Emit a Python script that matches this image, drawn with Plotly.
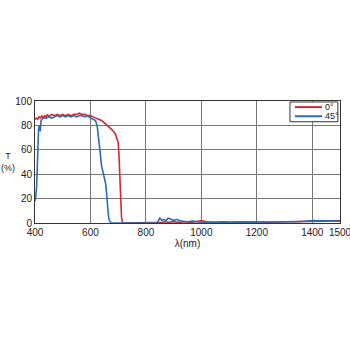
import plotly.graph_objects as go

wl_0 = [400, 405, 410, 415, 420, 425, 430, 435, 440, 445, 450, 460, 470, 480, 490, 500, 510, 520, 530, 540, 550, 560, 570, 580, 590, 600, 610, 620, 630, 640, 650, 660, 670, 680, 690, 695, 700, 703, 706, 709, 712, 715, 718, 722, 740, 800, 840, 850, 860, 870, 880, 900, 920, 940, 960, 980, 1000, 1020, 1050, 1080, 1100, 1150, 1200, 1250, 1300, 1350, 1400, 1450, 1500]
t_0 = [85, 86, 85, 87, 86, 88, 86, 88, 87, 89, 87, 89, 88, 89, 88, 89, 88, 89, 88, 89, 89, 90, 89, 89, 88, 88, 87, 86, 85, 84, 82, 80, 78, 76, 73, 70, 66, 55, 35, 15, 5, 1, 0, 0, 0, 0, 0, 0.5, 0.5, 1, 0.5, 1, 0.5, 1, 0.5, 1, 2, 1, 0.5, 1, 0.5, 1, 0.5, 0.5, 1, 1, 1.5, 1.5, 2]

wl_45 = [400, 403, 406, 408, 410, 413, 416, 419, 422, 425, 430, 440, 450, 460, 470, 480, 490, 500, 510, 520, 530, 540, 550, 560, 570, 580, 590, 600, 610, 618, 624, 628, 634, 640, 645, 650, 655, 658, 661, 664, 667, 671, 676, 700, 800, 840, 845, 850, 858, 865, 872, 880, 890, 900, 910, 920, 935, 950, 970, 1000, 1050, 1100, 1150, 1200, 1250, 1300, 1350, 1400, 1450, 1500]
t_45 = [18, 22, 30, 50, 65, 78, 80, 75, 84, 85, 86, 86, 87, 86, 87, 88, 87, 88, 87, 88, 87, 88, 87, 88, 88, 87, 88, 86, 85, 84, 80, 73, 60, 47, 42, 38, 32, 25, 14, 8, 3, 1, 0, 0, 0, 0, 2, 4, 2, 3, 2, 4, 3, 2, 3, 2, 1.5, 1, 1.5, 0.5, 0.5, 0.5, 0.5, 0.5, 0.5, 1, 1, 2, 1.5, 1.5]

x_ticks = [400, 600, 800, 1000, 1200, 1400, 1500]
y_ticks = [0, 20, 40, 60, 80, 100]
series_names = ["0°", "45°"]
series_colors = ["#d42a2f", "#2b6db3"]

fig = go.Figure()
fig.add_trace(go.Scatter(x=wl_0, y=t_0, mode="lines", name=series_names[0],
                         line=dict(color=series_colors[0], width=1.6), showlegend=False))
fig.add_trace(go.Scatter(x=wl_45, y=t_45, mode="lines", name=series_names[1],
                         line=dict(color=series_colors[1], width=1.6), showlegend=False))

shapes = [
    dict(type="rect", xref="paper", yref="paper", x0=0.836, x1=0.993, y0=0.83, y1=0.992,
         fillcolor="white", line=dict(color="#333", width=1), layer="above"),
]
annotations = [
    dict(text="T<br>(%)", xref="paper", yref="paper", x=-0.09, y=0.5,
         xanchor="center", yanchor="middle", showarrow=False, font=dict(size=9)),
]
for i, (nm, col) in enumerate(zip(series_names, series_colors)):
    yy = 0.95 - i * 0.075
    shapes.append(dict(type="line", xref="paper", yref="paper", x0=0.852, x1=0.941,
                       y0=yy, y1=yy, line=dict(color=col, width=2), layer="above"))
    annotations.append(dict(text=nm, xref="paper", yref="paper", x=0.943, y=yy,
                            xanchor="left", yanchor="middle", showarrow=False,
                            font=dict(size=9, color="#222")))

fig.update_layout(
    width=350, height=350,
    margin=dict(l=35, r=10, t=101, b=127),
    paper_bgcolor="white", plot_bgcolor="white",
    font=dict(family="Liberation Sans, Arial, sans-serif", size=10, color="#222"),
    showlegend=False,
    shapes=shapes,
    annotations=annotations,
)

fig.update_xaxes(range=[400, 1500], tickvals=x_ticks, ticktext=[str(v) for v in x_ticks],
                 ticklabeloverflow="allow", automargin=False,
                 showgrid=True, gridcolor="#777", gridwidth=1,
                 showline=True, linecolor="#333", linewidth=1, mirror=True,
                 ticks="", zeroline=False,
                 title=dict(text="λ(nm)", font=dict(size=10), standoff=2))
fig.update_yaxes(range=[0, 100], tickvals=y_ticks, automargin=False,
                 showgrid=True, gridcolor="#777", gridwidth=1,
                 showline=True, linecolor="#333", linewidth=1, mirror=True,
                 ticks="", zeroline=False)

fig.write_html("out.html")
